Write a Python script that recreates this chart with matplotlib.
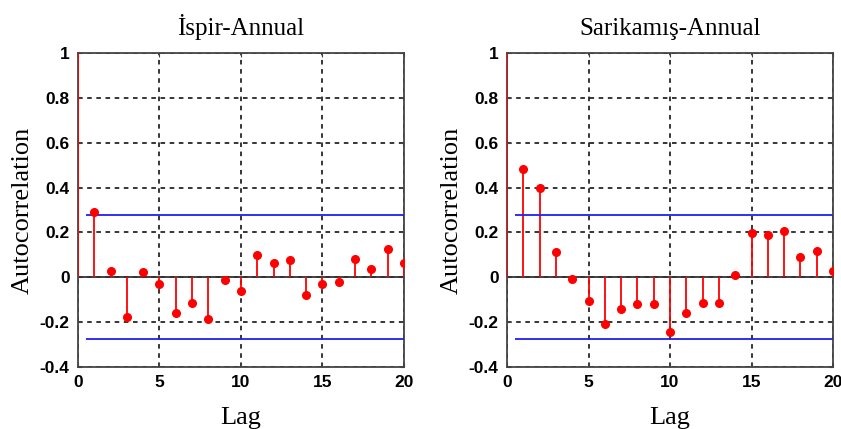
import matplotlib
matplotlib.use("Agg")
import matplotlib.pyplot as plt

# lags and sample autocorrelations
lags = list(range(0, 21))
ispir_acf = [1.0, 0.29, 0.03, -0.178, 0.022, -0.03, -0.16, -0.113, -0.185, -0.012,
             -0.061, 0.101, 0.065, 0.077, -0.077, -0.031, -0.019, 0.083, 0.036, 0.125, 0.065]
sarikamis_acf = [1.0, 0.481, 0.397, 0.113, -0.006, -0.107, -0.208, -0.143, -0.119, -0.119,
                 -0.244, -0.161, -0.113, -0.113, 0.012, 0.196, 0.19, 0.208, 0.089, 0.119, 0.03]
conf_bound = 0.277
titles = ["\u0130spir-Annual", "Sarikam\u0131\u015f-Annual"]

fig = plt.figure(figsize=(8.41, 4.29), dpi=100)
positions = [[0.0927, 0.1445, 0.3876, 0.732], [0.6029, 0.1445, 0.3876, 0.732]]

for pos, acf, title in zip(positions, [ispir_acf, sarikamis_acf], titles):
    ax = fig.add_axes(pos)
    ax.set_xlim(0, 20)
    ax.set_ylim(-0.4, 1)
    ax.set_xticks([0, 5, 10, 15, 20])
    ax.set_yticks([-0.4, -0.2, 0, 0.2, 0.4, 0.6, 0.8, 1])
    ax.set_yticklabels(["-0.4", "-0.2", "0", "0.2", "0.4", "0.6", "0.8", "1"])
    ax.grid(True, color="black", linestyle=(0, (3, 3)), linewidth=1.1)
    ax.set_axisbelow(True)

    ax.vlines(lags, 0, acf, color="red", linewidth=1.3, zorder=3)
    # lag 0 marker sits outside the box in the original, so only lags >= 1 get dots
    ax.plot(lags[1:], acf[1:], "o", color="red", markersize=5.5, zorder=4)
    ax.axhline(0, color="#333333", linewidth=1.3, zorder=2)
    ax.hlines([conf_bound, -conf_bound], 0.5, 20, color="#2020ee", linewidth=1.3, zorder=3)

    for s in ax.spines.values():
        s.set_color("#444444")
        s.set_linewidth(1.3)
    ax.tick_params(direction="in", length=3, width=0.8, color="#444444",
                   top=True, right=True, labelsize=12.5, pad=6)
    for lab in ax.get_xticklabels() + ax.get_yticklabels():
        lab.set_family("Liberation Sans")
        lab.set_fontweight("bold")

    ax.set_title(title, family="Liberation Serif", fontsize=18, pad=13)
    ax.set_xlabel("Lag", family="Liberation Serif", fontsize=19, labelpad=12)
    ax.set_ylabel("Autocorrelation", family="Liberation Serif", fontsize=19, labelpad=4)

fig.savefig("out.png", dpi=100)
